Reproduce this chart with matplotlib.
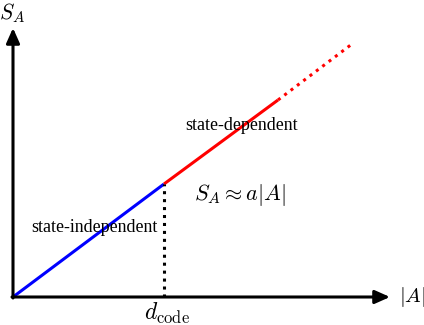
import matplotlib.pyplot as plt

plt.rcParams["mathtext.fontset"] = "cm"

# schematic values, in pixel-like units from the origin
d_code = 151
blue_x = [0, 151]
blue_y = [0, 113]
red_x = [151, 265]
red_y = [113, 197]
dotted_x = [265, 339]
dotted_y = [197, 253]

fig = plt.figure(figsize=(4.24, 3.25), dpi=100)
ax = fig.add_axes([0, 0, 1, 1])
ax.set_xlim(-13, 411)
ax.set_ylim(-28, 297)
ax.axis("off")

# axes with arrows
arrow = dict(arrowstyle="-|>,head_length=0.9,head_width=0.4", color="k", lw=2.2,
             shrinkA=0, shrinkB=0)
ax.annotate("", xy=(377, 0), xytext=(-1, 0), arrowprops=arrow)
ax.annotate("", xy=(0, 269), xytext=(0, -1), arrowprops=arrow)

ax.plot(blue_x, blue_y, color="#0000ff", lw=2.2, solid_capstyle="butt")
ax.plot(red_x, red_y, color="#ff0000", lw=2.2, solid_capstyle="butt")
ax.plot(dotted_x, dotted_y, color="#ff0000", lw=2.2, ls=(0, (1, 1.6)))
ax.plot([d_code, d_code], [0, blue_y[1]], color="k", lw=2.2, ls=(0, (1, 1.6)))

ax.text(-1, 284, r"$S_A$", fontsize=15.5, ha="center", va="center")
ax.text(399, 0, r"$|A|$", fontsize=15, ha="center", va="center")
ax.text(d_code + 3, -16, r"$d_{\rm code}$", fontsize=17, ha="center", va="center")
ax.text(227, 102, r"$S_A \approx a|A|$", fontsize=16, ha="center", va="center")
ax.text(81, 70, "state-independent", fontsize=12.9, family="Liberation Serif",
        ha="center", va="center")
ax.text(229, 172, "state-dependent", fontsize=12.9, family="Liberation Serif",
        ha="center", va="center")

fig.savefig("out.png", dpi=100)
